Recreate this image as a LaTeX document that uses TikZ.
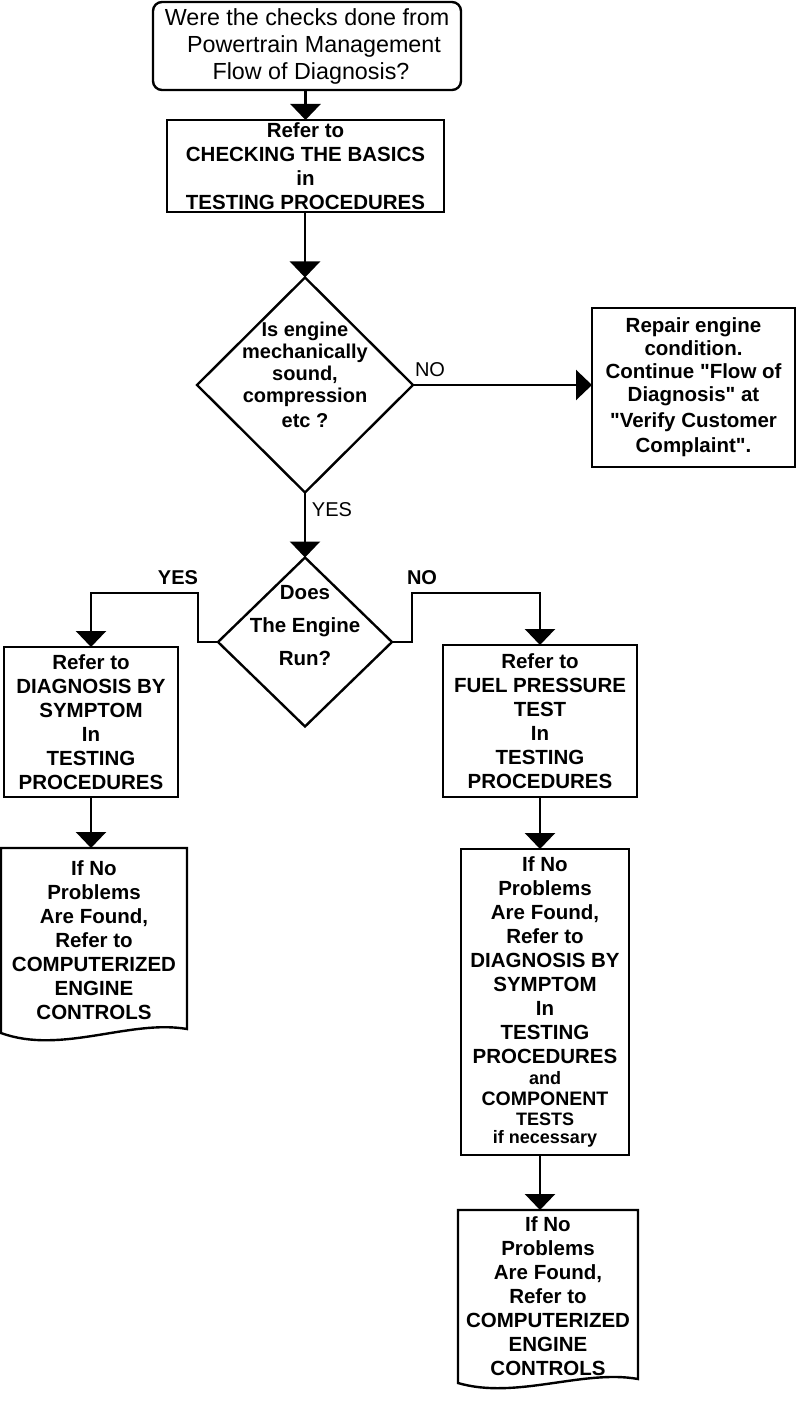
\documentclass[tikz,border=0pt]{standalone}
\usepackage{fontspec}
\setmainfont{Liberation Sans}[Ligatures=TeXOff]
\usetikzlibrary{arrows.meta,shapes.geometric}
\begin{document}
\begin{tikzpicture}[x=1pt,y=-1pt,
  every node/.style={inner sep=0pt, outer sep=0pt},
  shapebox/.style={draw, line width=2.4pt, align=center, font=\bfseries\fontsize{20.5}{24}\selectfont},
  plain/.style={align=center, font=\bfseries\fontsize{20.5}{24}\selectfont},
  conn/.style={line width=2.4pt},
  arr/.style={line width=2.4pt, -{Triangle[width=30pt,length=16pt]}},
  lbl/.style={font=\fontsize{20}{22}\selectfont},
  blbl/.style={font=\bfseries\fontsize{20}{22}\selectfont},
  dia/.style={draw, line width=2.4pt, diamond},
]
\fill[white] (0,0) rectangle (800,1404);
\useasboundingbox (0,0) rectangle (800,1404);

\node[draw, line width=2.4pt, rounded corners=9pt, minimum width=308pt, minimum height=88pt, align=center, font=\fontsize{23.3}{27}\selectfont] (q0) at (307,46) {Were the checks done from\\\hspace*{14pt}Powertrain Management\\\hspace*{8pt}Flow of Diagnosis?};

\node[shapebox, minimum width=277pt, minimum height=92pt] (b1) at (305.5,166) {Refer to\\CHECKING THE BASICS\\in\\TESTING PROCEDURES};
\draw[arr] (q0.south -| b1.north) -- (b1.north);

\node[dia, minimum width=216pt, minimum height=215pt] (d1) at (305,385) {};
\node[plain, font=\bfseries\fontsize{20}{22}\selectfont] (t1) at (305,375) {Is engine\\mechanically\\sound,\\compression\\[3pt]etc ?};
\draw[arr] (b1.south -| d1.north) -- (d1.north);

\node[shapebox, minimum width=203pt, minimum height=159pt, font=\bfseries\fontsize{20.5}{23}\selectfont] (rep) at (693.5,387.5) {Repair engine\\condition.\\Continue "Flow of\\Diagnosis" at\\[3pt]"Verify Customer\\[2pt]Complaint".};
\draw[arr] (d1.east) -- (d1.east -| rep.west);
\node[lbl] (no1) at (430,370) {NO};

\node[dia, minimum width=174pt, minimum height=169pt] (d2) at (305,642) {};
\node[plain, font=\bfseries\fontsize{20.5}{33}\selectfont] (t2) at (305,626) {Does\\The Engine\\Run?};
\draw[arr] (d1.south) -- (d2.north);
\node[lbl] (yes1) at (332,510) {YES};

\node[shapebox, minimum width=174pt, minimum height=150pt] (lb) at (91,722) {Refer to\\DIAGNOSIS BY\\SYMPTOM\\In\\TESTING\\PROCEDURES};
\node[shapebox, minimum width=194pt, minimum height=152pt] (rb) at (540,721) {Refer to\\FUEL PRESSURE\\TEST\\In\\TESTING\\PROCEDURES};

\coordinate (yl) at (198,593);
\draw[arr] (d2.west) -| (yl) -| (lb.north);
\node[blbl] (yes2) at (178,578) {YES};
\coordinate (nr) at (412,593);
\draw[arr] (d2.east) -| (nr) -| (rb.north);
\node[blbl] (no2) at (422,578) {NO};

% left document
\node[plain, minimum width=186pt, minimum height=185pt] (ld) at (94,940.5) {If No\\Problems\\Are Found,\\Refer to\\COMPUTERIZED\\ENGINE\\CONTROLS};
\draw[conn, line join=miter] (ld.south west) -- (ld.north west) -- (ld.north east) -- ([yshift=4pt]ld.south east)
  .. controls +(-57,-10) and +(60,22) .. (ld.south west) -- cycle;
\draw[arr] (lb.south) -- (lb.south |- ld.north);

% right document 1
\node[shapebox, minimum width=168pt, minimum height=306pt] (rd1) at (545,1002) {If No\\Problems\\Are Found,\\Refer to\\DIAGNOSIS BY\\SYMPTOM\\In\\TESTING\\PROCEDURES\\[-3pt]{\fontsize{18}{20}\selectfont and}\\[-3pt]{\fontsize{19.5}{20}\selectfont COMPONENT}\\[-4pt]{\fontsize{18}{20}\selectfont TESTS}\\[-6pt]{\fontsize{18}{20}\selectfont if necessary}};
\draw[arr] (rb.south) -- (rb.south |- rd1.north);

% right document 2
\node[plain, minimum width=180pt, minimum height=173pt] (rd2) at (548,1296.5) {If No\\Problems\\Are Found,\\Refer to\\COMPUTERIZED\\ENGINE\\CONTROLS};
\draw[conn, line join=miter] (rd2.south west) -- (rd2.north west) -- (rd2.north east) -- ([yshift=4pt]rd2.south east)
  .. controls +(-55,-10) and +(58,17) .. (rd2.south west) -- cycle;
\draw[arr] (rb.south |- rd1.south) -- (rb.south |- rd2.north);
\end{tikzpicture}
\end{document}
